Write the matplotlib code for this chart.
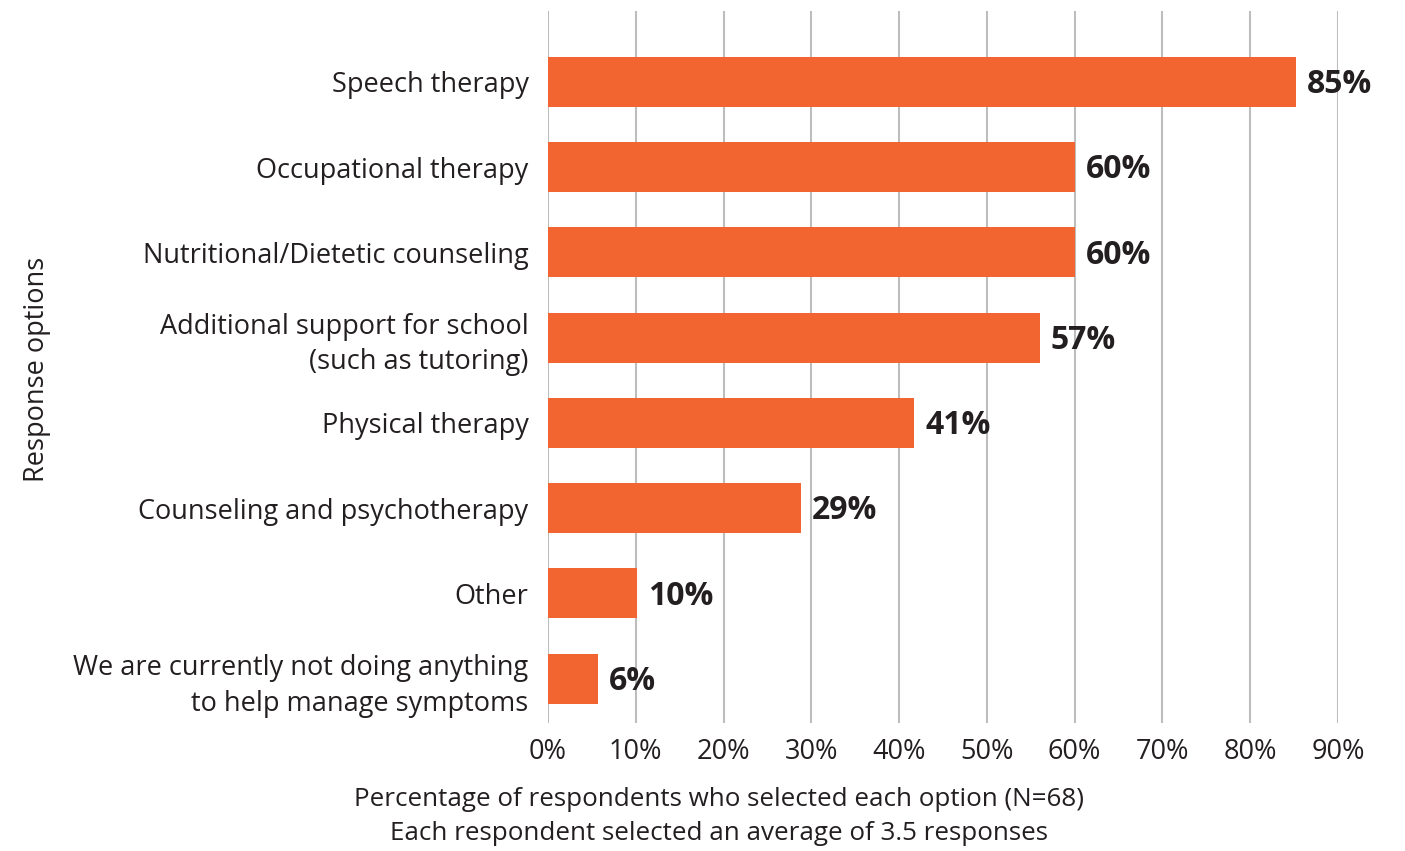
import matplotlib
matplotlib.use("Agg")
import matplotlib.pyplot as plt

categories = [
    "Speech therapy",
    "Occupational therapy",
    "Nutritional/Dietetic counseling",
    "Additional support for school\n(such as tutoring)",
    "Physical therapy",
    "Counseling and psychotherapy",
    "Other",
    "We are currently not doing anything\nto help manage symptoms",
]
values = [85.2, 60.0, 60.0, 56.0, 41.7, 28.8, 10.1, 5.7]
value_labels = ["85%", "60%", "60%", "57%", "41%", "29%", "10%", "6%"]
xticks = [0, 10, 20, 30, 40, 50, 60, 70, 80, 90]
xtick_labels = [f"{t}%" for t in xticks]

plt.rcParams['font.family'] = ['Open Sans', 'DejaVu Sans']
text_color = "#231f20"
bar_color = "#F26430"

fig = plt.figure(figsize=(14.05, 8.51), dpi=100)
ax = fig.add_axes([548/1405, 1 - 723/851, (1338-548)/1405, (723-11)/851])

pos = list(range(len(categories)))
ax.barh(pos, values, height=0.586, color=bar_color, zorder=3)
ax.set_ylim(7.52, -0.83)
ax.set_xlim(0, 90)
ax.set_xticks(xticks)
ax.set_xticklabels(xtick_labels, fontsize=19.5, color=text_color)
ax.set_yticks(pos)
ax.set_yticklabels(categories, fontsize=19.5, color=text_color, linespacing=1.35)
ax.tick_params(axis='both', length=0)
ax.tick_params(axis='y', pad=14)
ax.tick_params(axis='x', pad=11)
ax.grid(axis='x', color="#bdbdbd", linewidth=1.5, zorder=0)
for s in ax.spines.values():
    s.set_visible(False)

for p, v, lab in zip(pos, values, value_labels):
    ax.annotate(lab, xy=(v, p), xytext=(8, -2), textcoords="offset points",
                ha="left", va="center", fontsize=23, fontweight="bold", color=text_color)

fig.text(37/1405, 1 - 369/851, "Response options", rotation=90, ha="center", va="center",
         fontsize=19.5, color=text_color)
fig.text(719/1405, 1 - 799/851, "Percentage of respondents who selected each option (N=68)",
         ha="center", va="center", fontsize=18.7, color=text_color)
fig.text(719/1405, 1 - 834/851, "Each respondent selected an average of 3.5 responses",
         ha="center", va="center", fontsize=18.7, color=text_color)

fig.savefig("out.png", dpi=100)
